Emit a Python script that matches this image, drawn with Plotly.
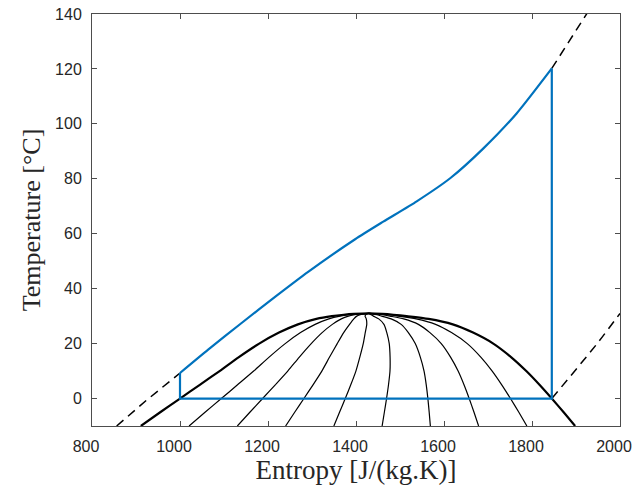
import plotly.graph_objects as go

# Saturation dome
T_sat = [-10, -5, 0, 5, 10, 15, 20, 24, 27, 29, 30, 30.5, 30.8, 31.0]
s_liq = [911, 955, 1000, 1045, 1090, 1133, 1180, 1225, 1268, 1310, 1345, 1372, 1395, 1430]
s_vap = [1898, 1872, 1845, 1817, 1787, 1753, 1712, 1666, 1620, 1565, 1515, 1485, 1460, 1430]
qualities = [1/9, 2/9, 3/9, 4/9, 5/9, 6/9, 7/9, 8/9]

# Cycle (blue)
s_hp = [1000, 1064, 1140, 1216, 1292, 1398, 1462, 1538, 1614, 1689, 1765, 1845]
T_hp = [9.3, 17.8, 27.5, 37.0, 46.2, 58.0, 64.4, 71.8, 80.2, 91.0, 103.8, 120.2]
s_box = [1000, 1000, 1845, 1845]
T_box = [9.3, 0, 0, 120.2]

# Dashed isobar continuations
s_hp_low = [856, 924, 1000]
T_hp_low = [-10, -0.6, 9.3]
s_hp_high = [1845, 1886, 1924, 1940]
T_hp_high = [120.2, 130.5, 140, 144]
s_lp = [1845, 1900, 1950, 2000]
T_lp = [0, 10.6, 20.4, 31.0]

fig = go.Figure()

# quality lines
for q in qualities:
    xs = [sl + q * (sv - sl) for sl, sv in zip(s_liq, s_vap)]
    fig.add_trace(go.Scatter(x=xs, y=T_sat, mode="lines",
                             line=dict(color="black", width=1.2, shape="spline", smoothing=0.6),
                             showlegend=False, hoverinfo="skip"))

# dome
fig.add_trace(go.Scatter(x=s_liq + s_vap[::-1][1:], y=T_sat + T_sat[::-1][1:], mode="lines",
                         line=dict(color="black", width=2.2, shape="spline", smoothing=0.6),
                         showlegend=False))

dash = dict(color="black", width=1.5, dash="9px,6px")
fig.add_trace(go.Scatter(x=s_hp_low, y=T_hp_low, mode="lines", line=dash, showlegend=False))
fig.add_trace(go.Scatter(x=s_hp_high, y=T_hp_high, mode="lines", line=dash, showlegend=False))
fig.add_trace(go.Scatter(x=s_lp, y=T_lp, mode="lines", line=dict(dash, shape="spline"), showlegend=False))

blue = "#0072BD"
fig.add_trace(go.Scatter(x=s_hp, y=T_hp, mode="lines",
                         line=dict(color=blue, width=2.2, shape="spline", smoothing=0.6),
                         showlegend=False))
fig.add_trace(go.Scatter(x=s_box, y=T_box, mode="lines",
                         line=dict(color=blue, width=2.2), showlegend=False))

axis_common = dict(showgrid=False, zeroline=False, showline=True, linecolor="#4d4d4d",
                   linewidth=1, mirror="ticks", ticks="inside", ticklen=5, tickcolor="#4d4d4d",
                   tickfont=dict(family="Liberation Sans, Arial", size=16, color="#262626"),
                   ticklabelstandoff=6, ticklabeloverflow="allow", automargin=False)

fig.update_layout(
    width=635, height=486,
    margin=dict(l=92, r=15, t=14, b=60),
    paper_bgcolor="white", plot_bgcolor="white",
    xaxis=dict(axis_common, range=[800, 2000], tickvals=[800, 1000, 1200, 1400, 1600, 1800, 2000],
               ticklabelshift=-6,
               title=dict(text="Entropy [J/(kg.K)]", standoff=4,
                          font=dict(family="Liberation Serif, Times New Roman", size=27, color="#262626"))),
    yaxis=dict(axis_common, range=[-10, 140], tickvals=[0, 20, 40, 60, 80, 100, 120, 140],
               title=dict(text="Temperature [°C]", standoff=6,
                          font=dict(family="Liberation Serif, Times New Roman", size=26, color="#262626"))),
)

fig.write_html("out.html")
